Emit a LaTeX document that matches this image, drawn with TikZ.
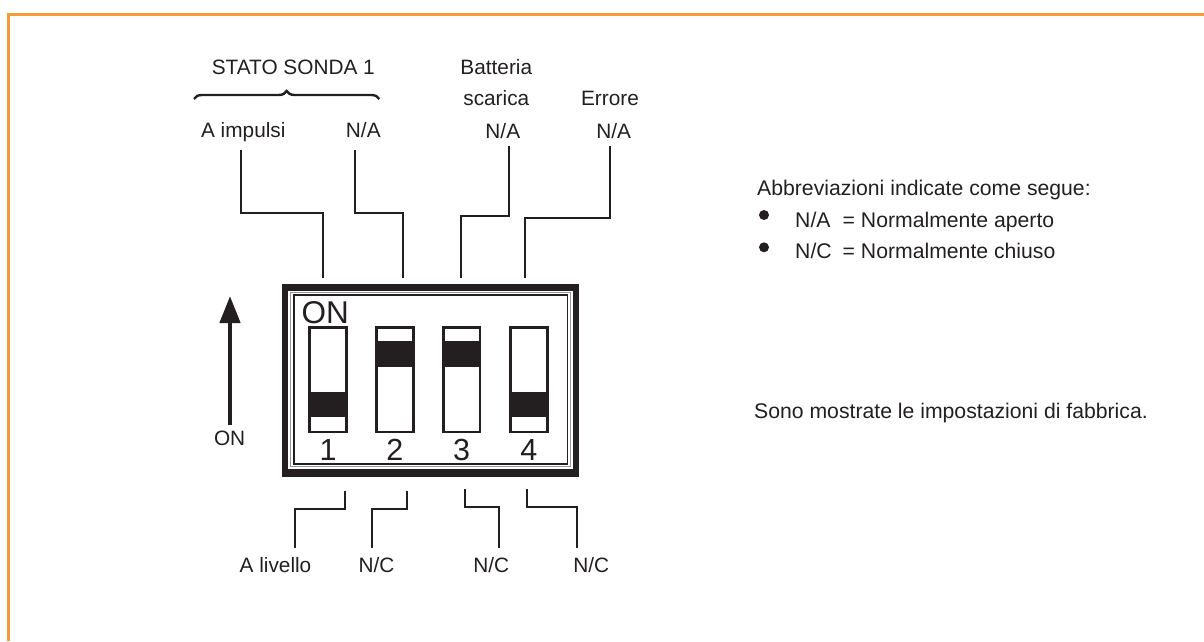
\documentclass[tikz,border=0pt]{standalone}
\usepackage{fontspec}
\setmainfont{Liberation Sans}
\usetikzlibrary{arrows.meta,decorations.pathreplacing}
\definecolor{ink}{RGB}{35,31,32}
\definecolor{frameorange}{RGB}{245,155,55}
\definecolor{dipgray}{RGB}{150,150,150}
\begin{document}
\begin{tikzpicture}[x=1pt,y=-1pt,
  lbl/.style={font=\fontsize{20.8}{24}\selectfont, text=ink, anchor=base, inner sep=0pt},
  lbll/.style={lbl, anchor=base west, font=\fontsize{21.2}{24}\selectfont},
  digit/.style={font=\fontsize{30.5}{34}\selectfont, text=ink, anchor=base, inner sep=0pt},
  lead/.style={draw=ink, line width=2.5pt},
  slot/.style={draw=ink, fill=white, line width=2.6pt},
  knob/.style={fill=ink},
  bulletdot/.style={circle, fill=ink, inner sep=0pt, minimum size=10pt}]
\useasboundingbox (0,0) rectangle (1204,641);
% frame
\draw[frameorange, line width=2.5pt] (8.3,641) -- (8.3,14.5) -- (1204,14.5);

% top labels
\node[lbl] (stato) at (293.3,74) {STATO SONDA 1};
\draw[ink, line width=2.4pt, decoration={brace, amplitude=8pt}, decorate] (194,99) -- (379.3,99);
\node[lbl] (impulsi) at (243.3,137) {A impulsi};
\node[lbl] (na1) at (363.3,137) {N/A};
\node[lbl] (batt) at (496.3,74.3) {Batteria};
\node[lbl] (scar) at (496.3,105.7) {scarica};
\node[lbl] (na2) at (502.8,138) {N/A};
\node[lbl] (err) at (610,105.7) {Errore};
\node[lbl] (na3) at (613.7,138) {N/A};

% DIP switch body
\fill[ink] (282,284) rectangle (579,477);
\fill[white] (288,290.5) rectangle (573,469);
\draw[dipgray, line width=1.5pt] (290.5,292.5) rectangle (570.5,466.5);
\draw[ink, line width=1.3pt] (294,295) rectangle (567.5,464);
\node[digit, anchor=base west, font=\fontsize{31.5}{34}\selectfont] (onin) at (301.5,323.3) {ON};

% slots
\foreach \i/\cx/\ky in {1/328/391.7, 2/394.8/341, 3/461.7/341, 4/528.8/391.7}{
  \draw[slot] (\cx-18.4,327.3) rectangle (\cx+18.4,432);
  \fill[knob] (\cx-18.4,\ky) rectangle (\cx+18.4,\ky+25.5);
  \draw[ink, line width=2.6pt] (\cx-18.4,327.3) rectangle (\cx+18.4,432);
  \node[digit] (d\i) at (\cx,460) {\i};
}

% ON arrow
\node[lbl] (onlbl) at (229.6,445.7) {ON};
\coordinate (arrbot) at (230,425);
\coordinate (arrtop) at (230,296);
\draw[ink, line width=4.5pt, -{Triangle[width=20pt,length=27pt]}] (arrbot) -- (arrtop);

% top leader lines
\coordinate (u1a) at (241,150); \coordinate (u1b) at (323,213); \coordinate (u1c) at (323,278);
\coordinate (u2a) at (355,150); \coordinate (u2b) at (403,213); \coordinate (u2c) at (403,278);
\coordinate (u3a) at (509,146); \coordinate (u3b) at (461,216); \coordinate (u3c) at (461,278);
\coordinate (u4a) at (610,146); \coordinate (u4b) at (525,218); \coordinate (u4c) at (525,278);
\draw[lead] (u1a) |- (u1b) -- (u1c);
\draw[lead] (u2a) |- (u2b) -- (u2c);
\draw[lead] (u3a) |- (u3b) -- (u3c);
\draw[lead] (u4a) |- (u4b) -- (u4c);

% bottom leader lines
\coordinate (b1a) at (345,491); \coordinate (b1b) at (295,509); \coordinate (b1c) at (295,548);
\coordinate (b2a) at (407,491); \coordinate (b2b) at (372,509); \coordinate (b2c) at (372,548);
\coordinate (b3a) at (465,489); \coordinate (b3b) at (499,507); \coordinate (b3c) at (499,548);
\coordinate (b4a) at (527,489); \coordinate (b4b) at (577,507); \coordinate (b4c) at (577,548);
\draw[lead] (b1a) |- (b1b) -- (b1c);
\draw[lead] (b2a) |- (b2b) -- (b2c);
\draw[lead] (b3a) |- (b3b) -- (b3c);
\draw[lead] (b4a) |- (b4b) -- (b4c);

% bottom labels
\node[lbl] (livello) at (275.5,572.7) {A livello};
\node[lbl] (nc1) at (376.5,572.7) {N/C};
\node[lbl] (nc2) at (491.2,572.7) {N/C};
\node[lbl] (nc3) at (591.2,572.7) {N/C};

% legend
\node[lbll] (abbr) at (757,195) {Abbreviazioni indicate come segue:};
\node[bulletdot] (bul1) at (764,215) {};
\node[lbll] (naA) at (795,227.3) {N/A};
\node[lbll] (naB) at (842.5,227.3) {= Normalmente aperto};
\node[bulletdot] (bul2) at (764,247.3) {};
\node[lbll] (ncA) at (795,258) {N/C};
\node[lbll] (ncB) at (842.5,258) {= Normalmente chiuso};
\node[lbll] (sono) at (754,418) {Sono mostrate le impostazioni di fabbrica.};
\end{tikzpicture}
\end{document}
